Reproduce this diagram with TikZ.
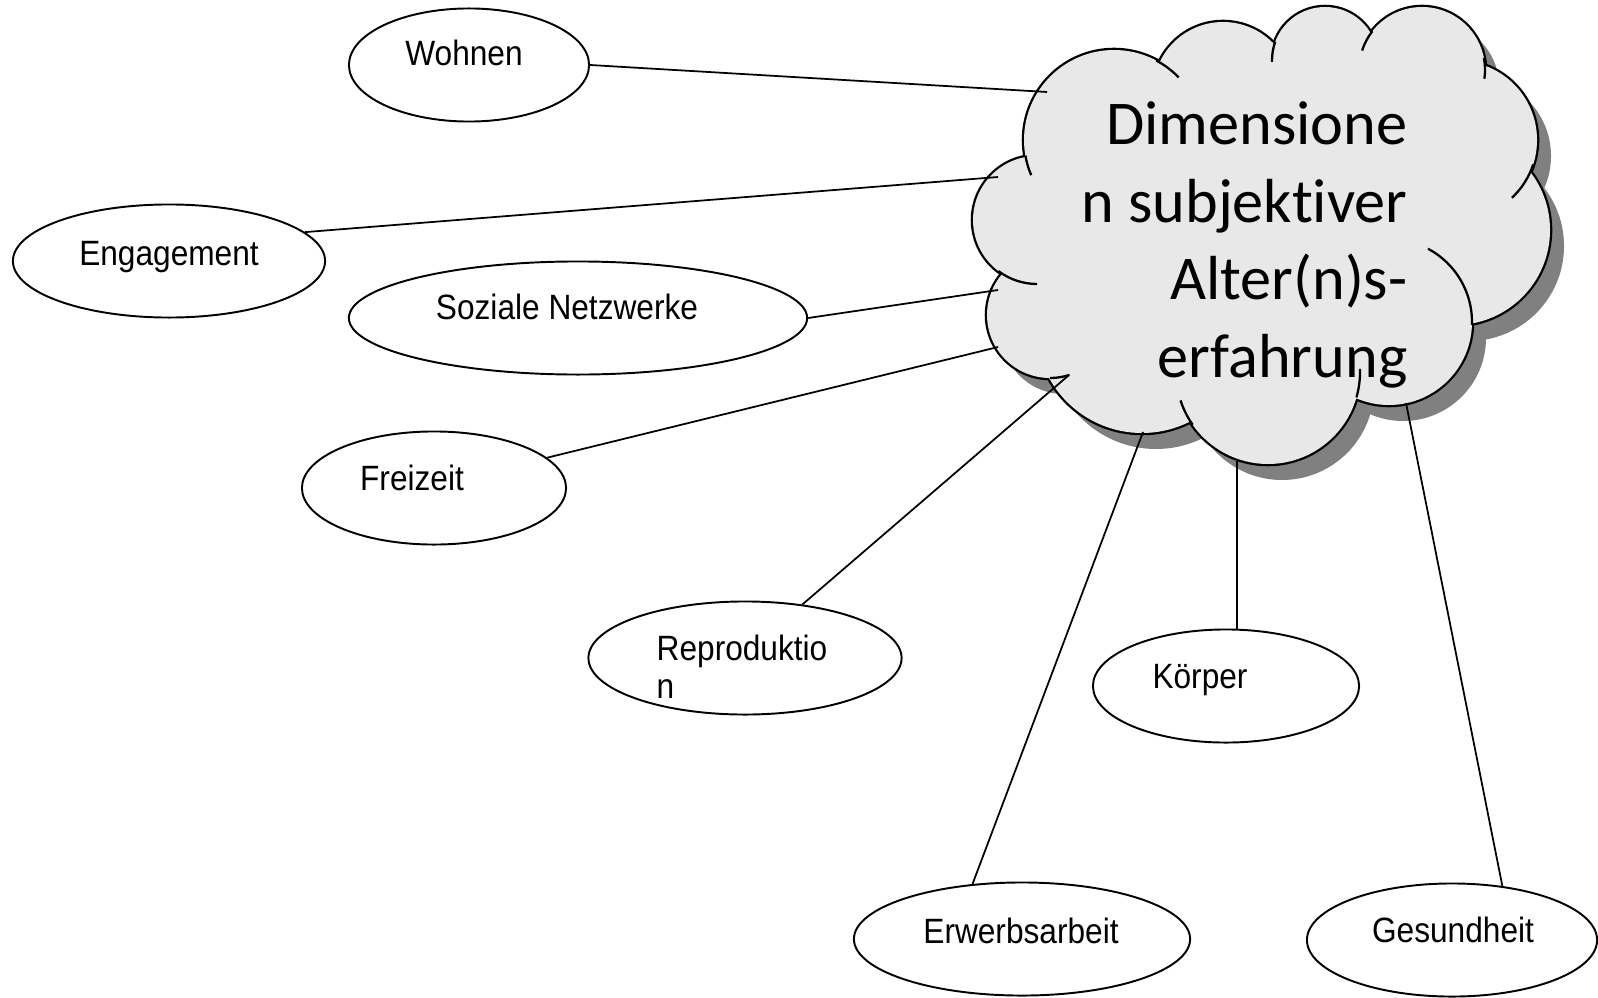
\documentclass[tikz,border=0pt]{standalone}
\usepackage{fontspec}
\setmainfont{Liberation Sans}
\newfontfamily\dimfont[FakeStretch=0.9]{Liberation Sans}
\newfontfamily\cloudfont[Ligatures={NoCommon,NoRare}]{Carlito}
\usetikzlibrary{shapes.geometric}
\definecolor{cloudfill}{HTML}{E8E8E8}
\definecolor{cloudshade}{HTML}{808080}
% lobes of the cloud: centre x / centre y / radius
\newcommand\cloudlobes{1114/140/90, 1223/92/70, 1325/60/53, 1422/70/63,
  1458/140/79, 1455/230/95, 1389/322/83, 1268/372/92, 1142/327/106,
  1050/315/63, 1037/220/64}

\begin{document}
\begin{tikzpicture}[x=0.01cm, y=-0.01cm,
  dim/.style={draw, ellipse, line width=0.55pt, inner sep=0pt, minimum height=1.13cm},
  lbl/.style={font=\dimfont\fontsize{10pt}{10.8pt}\selectfont, inner sep=0pt},
  link/.style={line width=0.5pt}]
  \useasboundingbox (0,0) rectangle (1598,997);

  % Cloud: shadow, outline, fill
  \begin{scope}[shift={(14,16)}]
    \fill[cloudshade] (1037,220) \foreach \cx/\cy/\r in \cloudlobes {-- (\cx,\cy)} -- cycle;
    \foreach \cx/\cy/\r in \cloudlobes
      \fill[cloudshade] (\cx,\cy) circle[radius=\r];
  \end{scope}
  \foreach \cx/\cy/\r in \cloudlobes
    \draw[line width=1.3pt] (\cx,\cy) circle[radius=\r];
  \fill[cloudfill] (1037,220) \foreach \cx/\cy/\r in \cloudlobes {-- (\cx,\cy)} -- cycle;
  \foreach \cx/\cy/\r in \cloudlobes
    \fill[cloudfill] (\cx,\cy) circle[radius=\r];
  % inner ends of the lobes
  \foreach \cx/\cy/\r/\a/\b in {1114/140/90/170/157, 1114/140/90/-62/-44,
      1325/60/53/200/178, 1422/70/63/218/198, 1422/70/63/-11/8,
      1458/140/79/18/47, 1389/322/83/2/-62, 1268/372/92/16/-2,
      1268/372/92/145/162, 1050/315/63/90/72, 1037/220/64/127/90}
    \draw[line width=0.65pt] (\cx,\cy) ++(\a:\r) arc[start angle=\a, end angle=\b, radius=\r];
  \node[font=\cloudfont\fontsize{17.7pt}{22pt}\selectfont, align=right,
    anchor=base east, inner sep=0pt] (thema) at (1408,377)
    {Dimensione\\n subjektiver\\Alter(n)s-\\erfahrung};

  % Dimensions
  \node[dim, minimum width=2.4cm] (wohnen) at (469,65) {};
  \node[dim, minimum width=3.12cm] (engagement) at (169,261) {};
  \node[dim, minimum width=4.58cm] (netzwerke) at (578,318) {};
  \node[dim, minimum width=2.64cm] (freizeit) at (434,488) {};
  \node[dim, minimum width=3.13cm] (reproduktion) at (745,658) {};
  \node[dim, minimum width=2.66cm] (koerper) at (1226,686) {};
  \node[dim, minimum width=3.36cm] (erwerb) at (1022,939) {};
  \node[dim, minimum width=2.9cm] (gesundheit) at (1452,940) {};

  \node[lbl, anchor=base] (t-wohnen) at (464,66) {Wohnen};
  \node[lbl, anchor=base] (t-engagement) at (169,265) {Engagement};
  \node[lbl, anchor=base] (t-netzwerke) at (567,319) {Soziale Netzwerke};
  \node[lbl, anchor=base] (t-freizeit) at (412,490) {Freizeit};
  \node[lbl, anchor=base west, align=left] (t-reproduktion) at (656,698) {Reproduktio\\n};
  \node[lbl, anchor=base] (t-koerper) at (1200,688) {Körper};
  \node[lbl, anchor=base] (t-erwerb) at (1021,943) {Erwerbsarbeit};
  \node[lbl, anchor=base] (t-gesundheit) at (1453,942) {Gesundheit};

  % Connectors to the cloud
  \coordinate (c-wohnen) at (1047,92);
  \coordinate (c-engagement) at (998,177);
  \coordinate (c-netzwerke) at (998,290);
  \coordinate (c-freizeit) at (998,347);
  \coordinate (c-reproduktion) at (1069,375);
  \coordinate (c-erwerb) at (1143,432);
  \coordinate (c-koerper) at (1237,460);
  \coordinate (c-gesundheit) at (1406,403);
  \draw[link] (wohnen.east) -- (c-wohnen);
  \draw[link] (engagement.12) -- (c-engagement);
  \draw[link] (netzwerke.east) -- (c-netzwerke);
  \draw[link] (freizeit.15) -- (c-freizeit);
  \draw[link] (reproduktion.43) -- (c-reproduktion);
  \draw[link] (erwerb.132) -- (c-erwerb);
  \draw[link] (c-koerper) -- (c-koerper |- koerper.north);
  \draw[link] (gesundheit.47) -- (c-gesundheit);
\end{tikzpicture}
\end{document}
